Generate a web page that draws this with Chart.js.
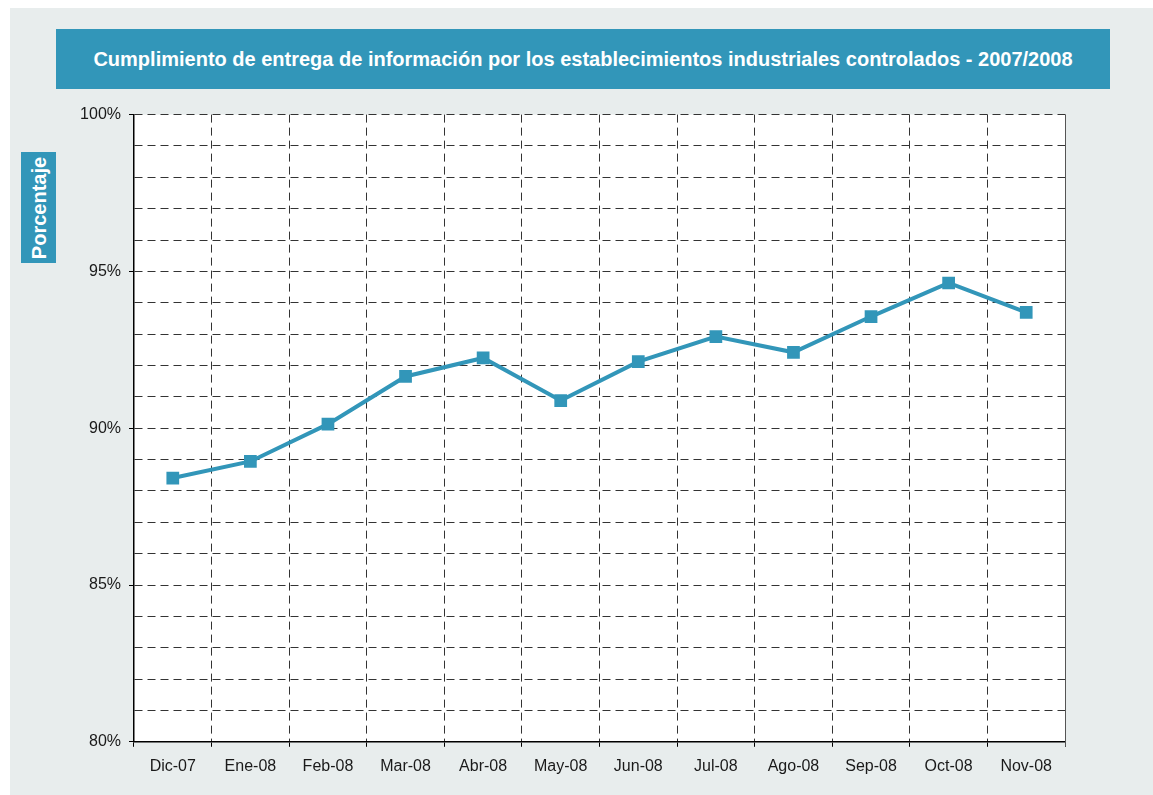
<!DOCTYPE html>
<html>
<head>
<meta charset="utf-8">
<title>Cumplimiento de entrega de información</title>
<script src="https://cdn.jsdelivr.net/npm/chart.js@4.4.1/dist/chart.umd.min.js"></script>
<style>
  body { margin: 0; width: 1153px; height: 795px; background: #fff; position: relative; overflow: hidden;
         font-family: "Liberation Sans", Arial, sans-serif; }
  #panel { position: absolute; left: 10px; top: 8px; right: 0; bottom: 0; background: #e8eded; }
  #banner { position: absolute; left: 56px; top: 29px; width: 1054px; height: 60px; background: #3296b9;
            color: #fff; font-weight: bold; font-size: 20px; line-height: 60px; text-align: center; }
  #ylabel { position: absolute; left: 21px; top: 152px; width: 35px; height: 111px; background: #3296b9; }
  #ylabel span { position: absolute; left: 50%; top: 50%; transform: translate(-50%, -50%) rotate(-90deg);
                 color: #fff; font-weight: bold; font-size: 20px; white-space: nowrap; }
  #myChart { position: absolute; left: 60px; top: 97px; }
</style>
</head>
<body>
<div id="panel"></div>
<div id="banner">Cumplimiento de entrega de información por los establecimientos industriales controlados - 2007/2008</div>
<div id="ylabel"><span>Porcentaje</span></div>
<canvas id="myChart" width="1015" height="698"></canvas>
<script>
'use strict';

// months on the x axis
var months = ['Dic-07', 'Ene-08', 'Feb-08', 'Mar-08', 'Abr-08', 'May-08',
              'Jun-08', 'Jul-08', 'Ago-08', 'Sep-08', 'Oct-08', 'Nov-08'];
// percentage of plants that delivered their information
var compliance = [88.41, 88.94, 90.13, 91.65, 92.24, 90.88,
                  92.12, 92.92, 92.42, 93.56, 94.63, 93.69];
// only these values get a label on the y axis
var yLabelled = [80, 85, 90, 95, 100];

(function () {

   var blue = '#3296b9';

   //white plot area + solid right edge
   var plotFrame = {
      id: 'plotFrame',
      beforeDraw: function (chart) {
         var a = chart.chartArea, ctx = chart.ctx;
         ctx.save();
         ctx.fillStyle = '#fff';
         ctx.fillRect(a.left, a.top, a.right - a.left, a.bottom - a.top);
         ctx.restore();
      },
      afterDatasetsDraw: function (chart) {
         var a = chart.chartArea, ctx = chart.ctx;
         ctx.save();
         ctx.strokeStyle = '#555';
         ctx.lineWidth = 1;
         ctx.beginPath();
         ctx.moveTo(a.right + 0.5, a.top);
         ctx.lineTo(a.right + 0.5, a.bottom + 5);
         ctx.stroke();
         ctx.restore();
      }
   };

   var ctx = document.getElementById('myChart').getContext('2d');
   var myChart = new Chart(ctx, {
      type: 'line',
      data: {
         labels: months,
         datasets: [{
            data: compliance,
            borderColor: blue,
            backgroundColor: blue,
            borderWidth: 4,
            pointStyle: 'rect',
            pointRadius: 9,
            pointHoverRadius: 9,
            pointBorderWidth: 0,
            tension: 0
         }]
      },
      options: {
         responsive: false,
         animation: false,
         layout: { padding: { left: 0, right: 10, top: 10, bottom: 9 } },
         plugins: {
            legend: { display: false },
            tooltip: { enabled: false }
         },
         scales: {
            x: {
               offset: true,
               grid: {
                  offset: true,
                  color: '#333',
                  lineWidth: 1,
                  tickLength: 5,
                  tickColor: '#000'
               },
               border: { display: true, color: '#000', width: 1.5, dash: [8, 5] },
               ticks: {
                  color: '#1a1a1a',
                  padding: 10,
                  maxRotation: 0,
                  font: { family: '"Liberation Sans", Arial, sans-serif', size: 16 }
               }
            },
            y: {
               min: 80,
               max: 100,
               afterFit: function (scale) { scale.width = 74; },
               grid: {
                  color: '#333',
                  lineWidth: 1,
                  tickLength: 5,
                  tickColor: function (c) {
                     return yLabelled.indexOf(c.tick.value) >= 0 ? '#000' : 'rgba(0,0,0,0)';
                  }
               },
               border: { display: true, color: '#000', width: 1.5, dash: [8, 5] },
               ticks: {
                  stepSize: 1,
                  autoSkip: false,
                  color: '#1a1a1a',
                  padding: 8,
                  font: { family: '"Liberation Sans", Arial, sans-serif', size: 16 },
                  callback: function (v) {
                     return yLabelled.indexOf(v) >= 0 ? v + '%' : '';
                  }
               }
            }
         }
      },
      plugins: [plotFrame]
   });

})();
</script>
</body>
</html>
